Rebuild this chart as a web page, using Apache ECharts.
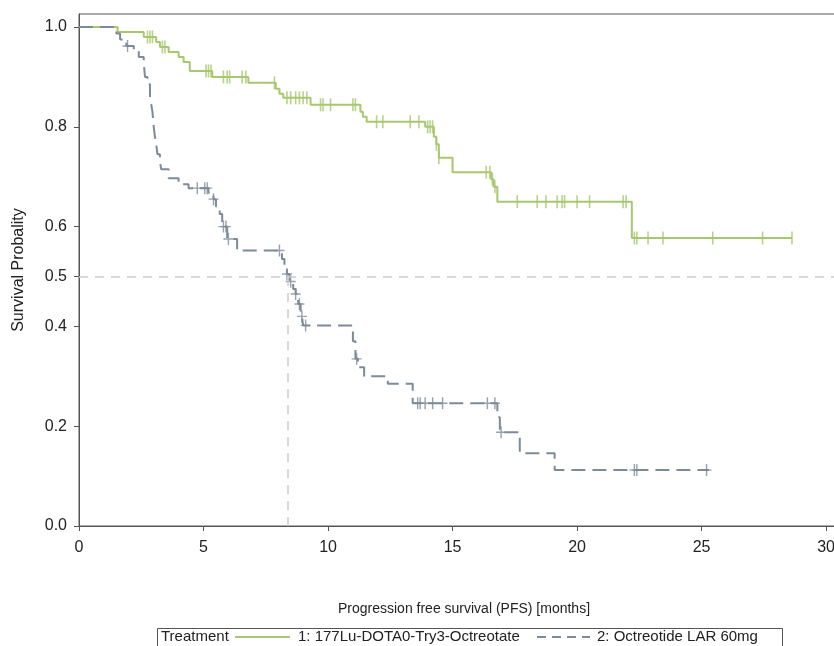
<!DOCTYPE html>
<html>
<head>
<meta charset="utf-8">
<script src="https://cdn.jsdelivr.net/npm/echarts@6/dist/echarts.min.js"></script>
<style>
html,body{margin:0;padding:0;background:#fff;overflow:hidden;}
#chart{width:834px;height:646px;}
</style>
</head>
<body>
<div id="chart"></div>
<script>
// ---------- Data ----------
const xTicks = [0, 5, 10, 15, 20, 25, 30];
const yTicks = [0.0, 0.2, 0.4, 0.5, 0.6, 0.8, 1.0];

// Arm 1: 177Lu-DOTA0-Try3-Octreotate (event times and survival after each step)
const luTimes = [0, 1.55, 2.6, 3.1, 3.25, 3.6, 4.0, 4.2, 4.45, 5.35, 6.8, 7.9, 8.05, 8.2, 9.3, 11.3, 11.4, 11.55, 13.9, 14.25, 14.35, 14.45, 15.0, 16.55, 16.65, 16.8, 22.2, 28.63];
const luSurv  = [1.0, 0.99, 0.98, 0.97, 0.96, 0.95, 0.94, 0.93, 0.912, 0.90, 0.888, 0.876, 0.866, 0.858, 0.844, 0.83, 0.82, 0.81, 0.80, 0.78, 0.765, 0.738, 0.709, 0.695, 0.68, 0.65, 0.577, 0.577];
const luCensor = [2.75, 2.85, 2.95, 3.35, 3.45, 5.1, 5.2, 5.3, 5.8, 5.95, 6.05, 6.55, 6.7, 7.85, 8.35, 8.5, 8.7, 8.85, 9.0, 9.15, 9.7, 9.8, 10.1, 11.0, 11.1, 11.95, 12.2, 13.3, 13.65, 14.0, 14.1, 14.2, 14.35, 14.45, 16.35, 16.5, 16.6, 16.7, 17.6, 18.4, 18.75, 19.2, 19.4, 19.5, 20.0, 20.5, 21.85, 21.97, 22.3, 22.4, 22.85, 23.45, 25.45, 27.45, 28.63];

// Arm 2: Octreotide LAR 60mg
const octTimes = [0, 1.5, 1.65, 1.9, 2.2, 2.4, 2.6, 2.65, 2.75, 2.85, 2.9, 2.95, 3.0, 3.05, 3.1, 3.15, 3.25, 3.3, 3.6, 4.0, 4.4, 5.2, 5.4, 5.5, 5.65, 5.75, 5.95, 6.35, 8.15, 8.25, 8.35, 8.45, 8.6, 8.7, 8.8, 8.9, 8.95, 9.0, 11.0, 11.1, 11.2, 11.45, 12.4, 13.4, 16.8, 16.9, 17.7, 19.1, 25.3];
const octSurv  = [1.0, 0.987, 0.975, 0.962, 0.955, 0.94, 0.928, 0.90, 0.885, 0.86, 0.845, 0.83, 0.80, 0.78, 0.765, 0.745, 0.73, 0.715, 0.697, 0.685, 0.677, 0.668, 0.655, 0.64, 0.625, 0.60, 0.575, 0.552, 0.535, 0.52, 0.505, 0.49, 0.475, 0.465, 0.445, 0.43, 0.42, 0.402, 0.37, 0.335, 0.318, 0.30, 0.285, 0.246, 0.218, 0.188, 0.146, 0.112, 0.112];
const octCensor = [1.95, 4.75, 5.05, 5.15, 5.4, 5.8, 5.9, 6.0, 8.05, 8.35, 8.5, 8.7, 8.85, 8.95, 9.1, 11.15, 13.6, 13.7, 13.9, 14.2, 14.6, 16.4, 16.7, 16.95, 22.3, 22.4, 25.2];

const medianTime = 8.4;
const medianLevel = 0.5;

const seriesNames = ['1: 177Lu-DOTA0-Try3-Octreotate', '2: Octreotide LAR 60mg'];
const GREEN = '#a8c76e';
const GREY = '#7d8b99';
const REF = '#c9ccd2';

// ---------- helpers ----------
function stepData(times, surv) { return times.map((t, i) => [t, surv[i]]); }
function survAt(times, surv, t) {
  let v = surv[0];
  for (let i = 0; i < times.length; i++) { if (times[i] <= t) v = surv[i]; else break; }
  return v;
}
function censorData(times, surv, cens) { return cens.map(t => [t, survAt(times, surv, t)]); }

const chart = echarts.init(document.getElementById('chart'), null, {renderer: 'canvas'});
const FONT = 'Liberation Sans, Arial, sans-serif';
const X_MAX = 30.92;

const option = {
  animation: false,
  backgroundColor: '#ffffff',
  grid: { left: 79, top: 14, width: 770, bottom: 120, show: true, borderColor: '#555', borderWidth: 1, containLabel: false, outerBoundsMode: 'none' },
  xAxis: {
    type: 'value', min: 0, max: X_MAX,
    name: 'Progression free survival (PFS) [months]', nameLocation: 'middle', nameGap: 76,
    nameTextStyle: { fontFamily: FONT, fontSize: 14, color: '#222' },
    axisLine: { show: true, lineStyle: { color: '#555', width: 1 } },
    axisTick: { show: true, length: 5, lineStyle: { color: '#555' }, customValues: xTicks },
    axisLabel: { fontFamily: FONT, fontSize: 16, color: '#222', margin: 14, customValues: xTicks, formatter: v => String(v) },
    splitLine: { show: false }
  },
  yAxis: {
    type: 'value', min: 0, max: 1.026,
    name: 'Survival Probality', nameLocation: 'middle', nameGap: 52, nameRotate: 90,
    nameTextStyle: { fontFamily: FONT, fontSize: 16, color: '#222' },
    axisLine: { show: true, lineStyle: { color: '#555', width: 1 } },
    axisTick: { show: true, length: 5, lineStyle: { color: '#555' }, customValues: yTicks },
    axisLabel: { fontFamily: FONT, fontSize: 16, color: '#222', margin: 12, customValues: yTicks, formatter: v => v.toFixed(1) },
    splitLine: { show: false }
  },
  series: [
    {
      name: 'ref', type: 'line', data: [], silent: true,
      markLine: {
        silent: true, symbol: 'none', label: { show: false },
        lineStyle: { color: REF, type: [9, 7], width: 1.5 },
        data: [
          [{ coord: [0, medianLevel] }, { coord: [X_MAX, medianLevel] }],
          [{ coord: [medianTime, 0] }, { coord: [medianTime, medianLevel] }]
        ]
      }
    },
    {
      name: seriesNames[0], type: 'line', step: 'end', showSymbol: false, symbol: 'none',
      data: stepData(luTimes, luSurv),
      lineStyle: { color: GREEN, width: 2 }, itemStyle: { color: GREEN }, z: 3
    },
    {
      name: seriesNames[0] + ' censored', type: 'scatter',
      data: censorData(luTimes, luSurv, luCensor),
      symbol: 'rect', symbolSize: [1.6, 13], itemStyle: { color: GREEN }, z: 4
    },
    {
      name: seriesNames[1], type: 'line', step: 'end', showSymbol: false, symbol: 'none',
      data: stepData(octTimes, octSurv),
      lineStyle: { color: GREY, width: 2, type: [14, 7] }, itemStyle: { color: GREY }, z: 3
    },
    {
      name: seriesNames[1] + ' censored', type: 'scatter',
      data: censorData(octTimes, octSurv, octCensor),
      symbol: 'path://M4.3,0h1.4v12h-1.4z M0,5.3h10v1.4h-10z', symbolSize: [10, 12],
      itemStyle: { color: GREY }, z: 4
    }
  ],
  graphic: [
    { type: 'rect', left: 155, top: 626, shape: { width: 625, height: 30 }, style: { fill: 'none', stroke: '#555', lineWidth: 1 }, silent: true },
    { type: 'text', x: 161, y: 637, style: { text: 'Treatment', font: '15px ' + FONT, fill: '#222', verticalAlign: 'middle' } },
    { type: 'line', shape: { x1: 235, y1: 637, x2: 290, y2: 637 }, style: { stroke: GREEN, lineWidth: 2 } },
    { type: 'text', x: 298, y: 637, style: { text: seriesNames[0], font: '15px ' + FONT, fill: '#222', verticalAlign: 'middle' } },
    { type: 'line', shape: { x1: 537, y1: 637, x2: 590, y2: 637 }, style: { stroke: GREY, lineWidth: 2, lineDash: [9, 6] } },
    { type: 'text', x: 597, y: 637, style: { text: seriesNames[1], font: '15px ' + FONT, fill: '#222', verticalAlign: 'middle' } }
  ]
};
chart.setOption(option);
</script>
</body>
</html>
